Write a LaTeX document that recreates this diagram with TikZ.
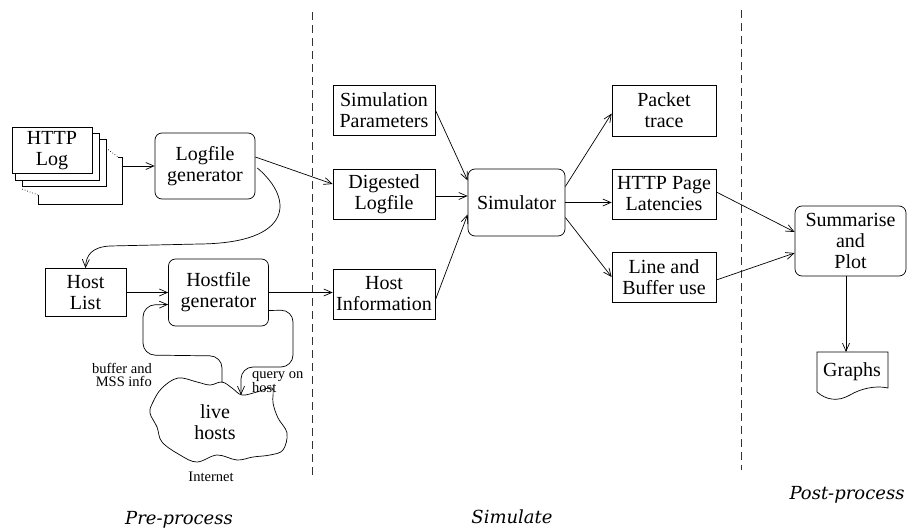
\documentclass[tikz,border=0pt]{standalone}
\usepackage{fontspec}
\setmainfont{Liberation Serif}
\newfontfamily\phasefont{DejaVu Serif}
\usetikzlibrary{arrows.meta, calc}
\tikzset{
  box/.style    = {draw, line width=0.7pt, align=center, inner sep=2pt,
                   font=\fontsize{20}{21}\selectfont},
  rbox/.style   = {box, rounded corners=7pt},
  arrow/.style  = {-{Straight Barb[length=8pt,width=7pt]}, line width=0.7pt},
  conn/.style   = {line width=0.7pt},
  lbl/.style    = {align=center, inner sep=0pt, font=\fontsize{14.5}{13}\selectfont},
  phase/.style  = {inner sep=0pt, font=\phasefont\itshape\fontsize{18}{20}\selectfont},
  divider/.style= {line width=0.9pt, black!80, dash pattern=on 8pt off 5pt},
}

\begin{document}
\begin{tikzpicture}[x=1pt, y=-1pt]
  \useasboundingbox (0,0) rectangle (908,529);

  % phase dividers
  \draw[divider] (312,12) -- (312,475);
  \draw[divider] (741,10) -- (741,470);

  % http log stack
  \draw[conn, dotted] (106,148) -- (118,157);
  \draw[conn, dotted] (38,195) -- (22,189);
  \draw[conn] (118,157) -- (122,157) -- (122,204) -- (38,204) -- (38,195);
  \draw[conn, fill=white] (22,139) rectangle (106,186);
  \draw[conn, fill=white] (15,133) rectangle (99,180);
  \node[box, fill=white, minimum width=80pt, minimum height=46pt] (httplog) at (52,150.5) {HTTP\\Log};
  \coordinate (logstack) at (122,166);

  % pre-process
  \node[rbox, minimum width=100pt, minimum height=66pt] (logfile) at (205,166) {Logfile\\generator};
  \node[box, minimum width=81pt, minimum height=48pt] (hostlist) at (85.5,292.5) {Host\\List};
  \node[rbox, minimum width=100pt, minimum height=67pt] (hostfile) at (218.5,292.5) {Hostfile\\generator};

  % internet cloud
  \draw[conn] plot[smooth cycle, tension=0.6] coordinates {
    (153,402) (162,388) (178,378) (197,382) (210,385) (222,382) (232,388)
    (242,395) (257,392) (272,388) (273,403) (278,418) (287,433) (283,450)
    (270,455) (253,457) (237,460) (217,455) (197,462) (180,455) (162,442)
    (157,427) (150,413)};
  \node[box, draw=none] (livehosts) at (215,422) {live\\hosts};
  \node[lbl] (internet) at (211,477) {Internet};
  \coordinate (cloudtop) at (222,383);
  \coordinate (cloudin) at (241,395);
  \node[lbl, anchor=east, align=right] (bufinfo) at (152,375) {buffer and\\MSS info};
  \node[lbl, anchor=west, align=left] (query) at (252,382) {query on\\host};

  % simulate
  \node[box, minimum width=102pt, minimum height=50pt] (simparams) at (384,110) {Simulation\\Parameters};
  \node[box, minimum width=102pt, minimum height=50pt] (digested) at (384,194) {Digested\\Logfile};
  \node[box, minimum width=102pt, minimum height=50pt] (hostinfo) at (384,294) {Host\\Information};
  \node[rbox, minimum width=97pt, minimum height=67pt] (simulator) at (516.5,202.5) {Simulator};
  \node[box, minimum width=104pt, minimum height=51pt] (packet) at (664,110.5) {Packet\\trace};
  \node[box, minimum width=104pt, minimum height=50pt] (latencies) at (664,194) {HTTP Page\\Latencies};
  \node[box, minimum width=104pt, minimum height=50pt] (linebuf) at (664,277) {Line and\\Buffer use};

  % post-process
  \node[rbox, minimum width=111pt, minimum height=70pt] (summarise) at (850.5,241) {Summarise\\and\\Plot};
  \draw[conn] (817,352) -- (888,352) -- (888,388)
    .. controls (875,385) and (860,389) .. (850,395)
    .. controls (838,402) and (826,400) .. (817,392) -- cycle;
  \node[box, draw=none] (graphs) at (852,372) {Graphs};
  \coordinate (graphstop) at (846,352);

  % connectors
  \draw[arrow] (logstack) -- (logfile.west);
  \draw[arrow] ($(logfile.east)+(0,-9)$) -- ($(digested.west)+(0,-10)$);
  \draw[arrow] ($(logfile.east)+(2,2)$) .. controls (295,200) and (292,243) .. (200,244)
    -- (110,246) .. controls (92,247) and (86,255) .. (hostlist.north);
  \draw[arrow] (hostlist.east) -- (hostlist.east -| hostfile.west);
  \draw[arrow] (hostfile.east) -- (hostfile.east -| hostinfo.west);
  \draw[arrow, rounded corners=12pt] ($(hostfile.east)+(0,18)$) -- (293,310) -- (293,367)
    -- (241,367) -- (cloudin);
  \draw[arrow, rounded corners=12pt] (cloudtop) -- (222,356) -- (143,355) -- (143,305)
    -- ($(hostfile.west)+(0,12)$);
  \draw[arrow] (simparams.east) -- ($(simulator.west)+(0,-22)$);
  \draw[arrow] ($(digested.east)+(0,2)$) -- ($(simulator.west)+(0,-6.5)$);
  \draw[arrow] ($(hostinfo.east)+(0,6)$) -- ($(simulator.west)+(0,12)$);
  \draw[arrow] ($(simulator.east)+(0,-16)$) -- ($(packet.west)+(0,3)$);
  \draw[arrow] (simulator.east) -- (simulator.east -| latencies.west);
  \draw[arrow] ($(simulator.east)+(0,15)$) -- (linebuf.west);
  \draw[arrow] ($(latencies.east)+(0,-2)$) -- ($(summarise.west)+(0,-9)$);
  \draw[arrow] ($(linebuf.east)+(0,3)$) -- ($(summarise.west)+(0,12)$);
  \draw[arrow] (summarise.south -| graphstop) -- (graphstop);

  % phase labels
  \node[phase] (prelbl) at (179,520) {Pre-process};
  \node[phase] (simlbl) at (512,517) {Simulate};
  \node[phase] (postlbl) at (847,495) {Post-process};
\end{tikzpicture}
\end{document}
